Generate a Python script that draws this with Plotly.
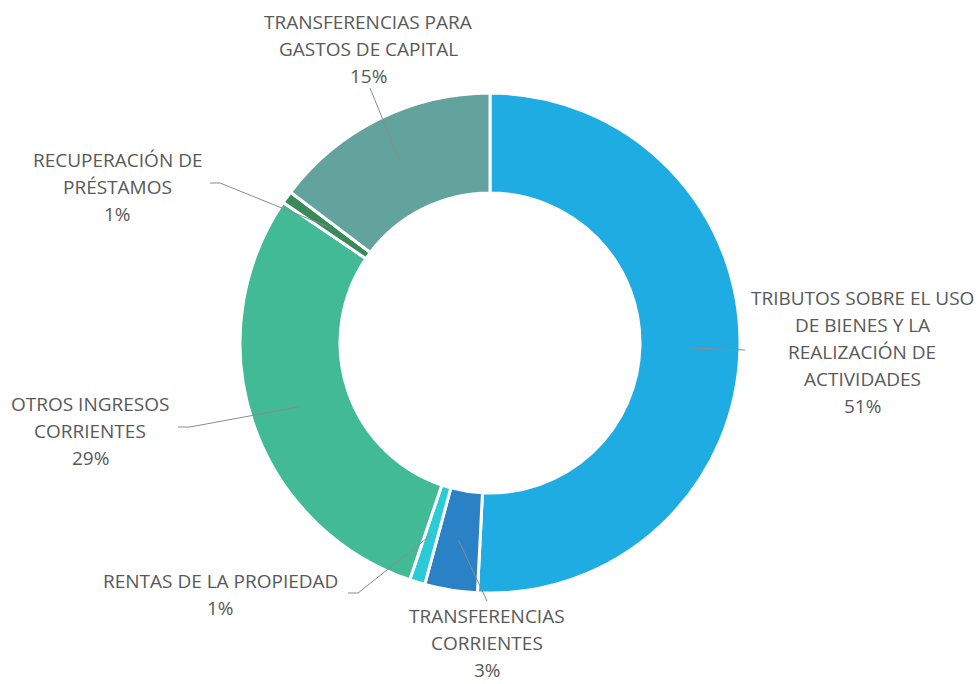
import math
import plotly.graph_objects as go

labels = [
    "TRIBUTOS SOBRE EL USO<br>DE BIENES Y LA<br>REALIZACIÓN DE<br>ACTIVIDADES",
    "TRANSFERENCIAS<br>CORRIENTES",
    "RENTAS DE LA PROPIEDAD",
    "OTROS INGRESOS<br>CORRIENTES",
    "RECUPERACIÓN DE<br>PRÉSTAMOS",
    "TRANSFERENCIAS PARA<br>GASTOS DE CAPITAL",
]
values = [50.8, 3.4, 1.0, 29.3, 0.8, 14.7]
colors = ["#1FACE3", "#2A81C6", "#2ACBD6", "#43BA96", "#3A8A57", "#62A39E"]

# layout (pixels in the 978x684 canvas)
W, H = 978, 684
CX, CY, R = 490, 343, 250
LEADER_R = 200
# label text block centre (x, y of first line) and leader elbow points
label_pos = [(862, 298), (487, 616), (220, 581), (90, 404), (117, 160), (368, 22)]
elbows = [[(745, 350)], [(487, 601)], [(358, 593), (348, 593)],
          [(190, 427), (178, 427)], [(220, 183), (210, 183)], [(370, 88)]]
LINE_H = 27

def px(x):
    return x / W

def py(y):
    return 1 - y / H

fig = go.Figure(go.Pie(
    labels=[l.replace("<br>", " ") for l in labels],
    values=values,
    hole=0.6,
    sort=False,
    direction="clockwise",
    rotation=0,
    textinfo="none",
    hoverinfo="label+percent",
    marker=dict(colors=colors, line=dict(color="white", width=3)),
    domain=dict(x=[px(CX - R), px(CX + R)], y=[py(CY + R), py(CY - R)]),
    showlegend=False,
))

total = sum(values)
shapes = []
annotations = []
cum = 0.0
for lab, v, (lx, ly), elb in zip(labels, values, label_pos, elbows):
    mid = (cum + v / 2) / total * 2 * math.pi
    cum += v
    sx = CX + LEADER_R * math.sin(mid)
    sy = CY - LEADER_R * math.cos(mid)
    pts = [(sx, sy)] + elb
    path = "M " + " L ".join(f"{px(x)},{py(y)}" for x, y in pts)
    shapes.append(dict(type="path", xref="paper", yref="paper", path=path,
                       line=dict(color="#8C8C8C", width=1)))
    lines = lab.split("<br>") + [f"{round(v / total * 100)}%"]
    for i, t in enumerate(lines):
        annotations.append(dict(
            x=px(lx), y=py(ly + i * LINE_H), xref="paper", yref="paper",
            text=t, showarrow=False, xanchor="center", yanchor="middle",
            borderpad=0,
            font=dict(family="Open Sans", size=19, color="#595959"),
        ))

fig.update_layout(
    width=W, height=H,
    margin=dict(l=0, r=0, t=0, b=0),
    paper_bgcolor="white",
    plot_bgcolor="white",
    shapes=shapes,
    annotations=annotations,
)

fig.write_html(
    "out.html",
    config={"displayModeBar": False},
    post_script="document.body.style.margin='0';document.body.style.overflow='hidden';",
)
